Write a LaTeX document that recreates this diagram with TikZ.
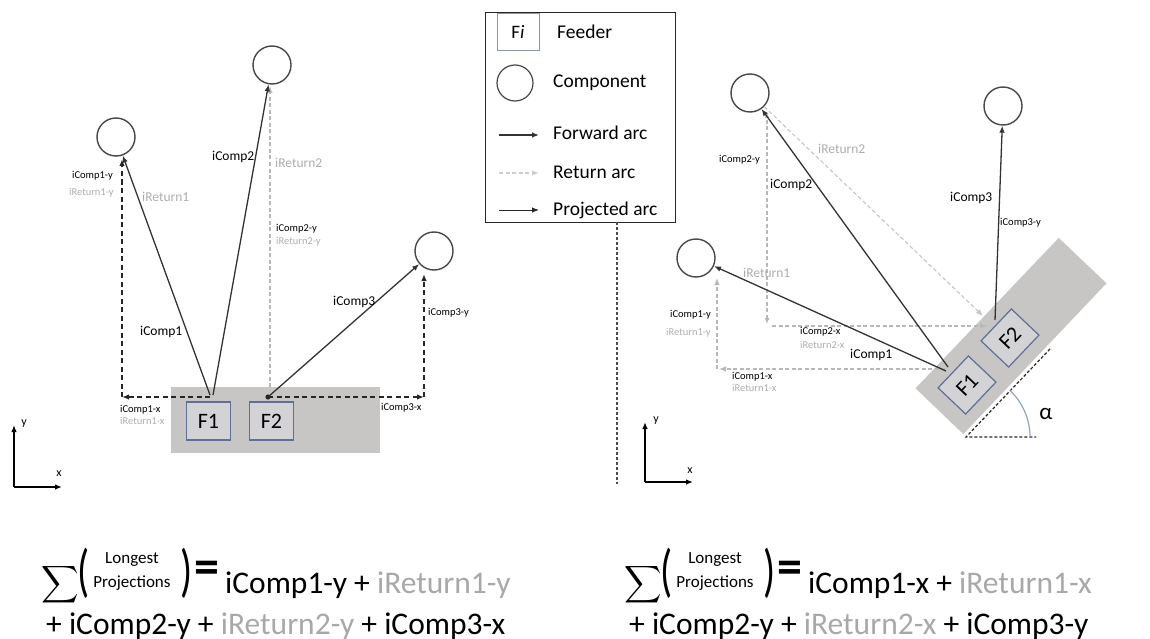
\documentclass[tikz,border=0pt]{standalone}
\usepackage{fontspec}
\usepackage{graphicx}
\setmainfont{Carlito}
\usetikzlibrary{arrows.meta}
\definecolor{boxgrey}{HTML}{C8C5C5}
\definecolor{feedfill}{HTML}{D3D2D4}
\definecolor{feedblue}{HTML}{5F6F95}
\definecolor{retgrey}{HTML}{B8B8B8}
\definecolor{txtgrey}{HTML}{ADADAD}
\definecolor{eqgrey}{HTML}{A8A8A8}
\definecolor{alphablue}{HTML}{8FA3CC}
\begin{document}
\begin{tikzpicture}[x=1pt,y=-1pt,
  comp/.style={circle,draw=black!72,line width=1.4pt,fill=white,minimum size=38pt,inner sep=0pt},
  feeder/.style={draw=feedblue,line width=1.2pt,fill=feedfill,minimum width=44pt,minimum height=38pt,inner sep=0pt,font=\fontsize{22}{22}\selectfont},
  tip/.style={-{Latex[length=7pt,width=5.5pt]}},
  tips/.style={{Latex[length=6pt,width=5pt]}-{Latex[length=6pt,width=5pt]}},
  fwd/.style={draw=black!80,line width=1.3pt,tip},
  retarc/.style={draw=retgrey,line width=1.1pt,dash pattern=on 4pt off 2.5pt},
  projk/.style={draw=black!85,line width=1.7pt,dash pattern=on 5pt off 3.5pt},
  projg/.style={draw=retgrey,line width=1.1pt,dash pattern=on 4pt off 2.5pt},
  lab/.style={font=\fontsize{13.5}{14}\selectfont,inner sep=0pt,anchor=west},
  slab/.style={font=\fontsize{10.5}{11}\selectfont,inner sep=0pt,anchor=west},
  grey/.style={text=txtgrey},
  axis/.style={draw=black,line width=1.3pt,tip},
  axlab/.style={font=\fontsize{12}{12}\selectfont,inner sep=0pt},
  legtxt/.style={font=\fontsize{19.5}{20}\selectfont,inner sep=0pt,anchor=west},
  eq/.style={font=\fontsize{31.5}{32}\selectfont,inner sep=0pt,anchor=base west},
  eqsmall/.style={font=\fontsize{17}{17}\selectfont,inner sep=0pt},
  bigsum/.style={inner sep=0pt},
  paren/.style={inner sep=0pt},
  eqsign/.style={inner sep=0pt,font=\fontsize{50}{50}\selectfont\bfseries}
]
\useasboundingbox (0,0) rectangle (1150,639);

% ================= LEFT DIAGRAM =================
\fill[boxgrey] (171,387) rectangle (380,453);
\node[feeder] (F1) at (208.5,421) {F1};
\node[feeder] (F2) at (271.5,421) {F2};
\node[comp] (C1) at (116,137) {};
\node[comp] (C2) at (272,65) {};
\node[comp] (C3) at (434,251) {};

\coordinate (a1) at (210,395);
\coordinate (a2) at (213,395);
\coordinate (a3) at (268,397);
\coordinate (h1) at (210,397);
\coordinate (pL) at (122,397);
\coordinate (pR) at (424,397);
\coordinate (pLt) at (122,159);
\coordinate (pRt) at (424,274);
\coordinate (r2b) at (270,387);
\coordinate (r2t) at (270,86);

\draw[projg,tip] (r2b) -- (r2t);
\draw[projk,tip] (h1) -- (pL);
\draw[projk,tip] (pL) -- (pLt);
\draw[projk,tip] (a3) -- (pR);
\draw[projk,tip] (pR) -- (pRt);
\draw[fwd] (a1) -- (C1);
\draw[fwd] (a2) -- (C2);
\draw[fwd] (a3) -- (C3);
\fill[black!85] (a3) circle (2.6pt);

\node[slab] at (72,176) {iComp1-y};
\node[slab,grey] at (69,193) {iReturn1-y};
\node[lab,grey] at (142,197) {iReturn1};
\node[lab] at (212,157) {iComp2};
\node[lab,grey] at (275,163) {iReturn2};
\node[slab] at (276,229) {iComp2-y};
\node[slab,grey] at (276,242) {iReturn2-y};
\node[lab] at (140,332) {iComp1};
\node[lab] at (333,302) {iComp3};
\node[slab] at (428,313) {iComp3-y};
\node[slab] at (120,410) {iComp1-x};
\node[slab,grey] at (120,421) {iReturn1-x};
\node[slab] at (381,408) {iComp3-x};

\coordinate (o1) at (14,487);
\coordinate (o1y) at (14,425);
\coordinate (o1x) at (62,487);
\draw[axis] (o1) -- (o1y);
\draw[axis] (o1) -- (o1x);
\node[axlab] at (24,424) {y};
\node[axlab] at (59,474) {x};

% ================= LEGEND =================
\node[draw=black!85,line width=1.2pt,minimum width=190pt,minimum height=210pt,anchor=north west,inner sep=0pt] (leg) at (485,12) {};
\node[draw=feedblue!75,line width=1pt,fill=white,minimum width=42pt,minimum height=37pt,inner sep=0pt,font=\fontsize{19}{19}\selectfont] (legF) at (518,32) {F\textit{i}};
\node[legtxt] at (557,32) {Feeder};
\node[comp,minimum size=36pt,line width=1.2pt] (legC) at (515,83) {};
\node[legtxt] at (553,83) {Component};
\coordinate (lfa) at (499,135); \coordinate (lfb) at (539,135);
\draw[fwd] (lfa) -- (lfb);
\node[legtxt] at (553,133) {Forward arc};
\coordinate (lra) at (499,173); \coordinate (lrb) at (539,173);
\draw[retarc,draw=retgrey!70,tip] (lra) -- (lrb);
\node[legtxt] at (553,172) {Return arc};
\coordinate (lpa) at (499,210); \coordinate (lpb) at (539,210);
\draw[draw=black!85,line width=1pt,tip] (lpa) -- (lpb);
\node[legtxt] at (553,210) {Projected arc};

\coordinate (sep1) at (617,222);
\coordinate (sep2) at (617,484);
\draw[black!70,line width=1.4pt,dash pattern=on 3pt off 2pt] (sep1) -- (sep2);

% ================= RIGHT DIAGRAM =================
\fill[boxgrey] (915.5,388.3) -- (1058.7,237.9) -- (1106.5,283.3) -- (963.3,434.1) -- cycle;
\node[feeder,rotate=46.5] (RF1) at (967,385) {F1};
\node[feeder,rotate=46.5] (RF2) at (1010,338) {F2};
\node[comp] (RC1) at (696,258) {};
\node[comp] (RC2) at (750,93) {};
\node[comp] (RC3) at (1003,106) {};

\coordinate (al0) at (966,437);
\coordinate (al1) at (1050,349);
\coordinate (al2) at (1036,437);
\draw[black!85,line width=1.2pt,dash pattern=on 3pt off 2pt] (al1) -- (al0) -- (al2);
\draw[alphablue,line width=1.2pt] (1030,437) arc[start angle=0,end angle=46.5,radius=64pt];
\node[font=\fontsize{23}{23}\selectfont,inner sep=0pt] at (1046,414) {α};

\coordinate (b1) at (946,371);
\coordinate (b2) at (948,367);
\coordinate (b3) at (995,320);
\coordinate (r2e) at (983,316);
\coordinate (v2t) at (767,112);
\coordinate (v2b) at (767,324);
\coordinate (h2l) at (772,326);
\coordinate (h2r) at (987,326);
\coordinate (v1t) at (717,278);
\coordinate (v1b) at (717,369);
\coordinate (h1r) at (945,369);
\coordinate (h1l) at (719,369);

\draw[projg,tips] (v2b) -- (v2t);
\draw[projg,tip] (h2l) -- (h2r);
\draw[projg,tip] (v1b) -- (v1t);
\draw[projg,tip] (h1r) -- (h1l);
\draw[retarc,draw=retgrey!80,tip] (RC2) -- (r2e);
\draw[fwd] (b1) -- (RC1);
\draw[fwd] (b2) -- (RC2);
\draw[fwd] (b3) -- (RC3);

\node[slab] at (719,160) {iComp2-y};
\node[lab] at (770,185) {iComp2};
\node[lab,grey] at (818,149) {iReturn2};
\node[lab,grey] at (743,273) {iReturn1};
\node[slab] at (670,315) {iComp1-y};
\node[slab,grey] at (666,333) {iReturn1-y};
\node[slab] at (800,332) {iComp2-x};
\node[slab,grey] at (800,345) {iReturn2-x};
\node[lab] at (850,355) {iComp1};
\node[slab] at (732,377) {iComp1-x};
\node[slab,grey] at (732,388) {iReturn1-x};
\node[lab] at (950,198) {iComp3};
\node[slab] at (1000,223) {iComp3-y};

\coordinate (o2) at (645,482);
\coordinate (o2y) at (645,422);
\coordinate (o2x) at (693,482);
\draw[axis] (o2) -- (o2y);
\draw[axis] (o2) -- (o2x);
\node[axlab] at (656,421) {y};
\node[axlab] at (690,471) {x};

% ================= EQUATIONS =================
\node[bigsum] (S1) at (60,585) {\scalebox{2.6}{$\displaystyle\sum$}};
\node[paren] (P1a) at (84,573) {\scalebox{1}[1.45]{\fontsize{40}{40}\selectfont(}};
\node[eqsmall] (L1a) at (132,560) {Longest};
\node[eqsmall] (L1b) at (132,583) {Projections};
\node[paren] (P1b) at (187,573) {\scalebox{1}[1.45]{\fontsize{40}{40}\selectfont)}};
\node[eqsign] (E1) at (207,572) {=};
\node[eq] (Q1a) at (225,593) {iComp1-y + {\color{eqgrey}iReturn1-y}};
\node[eq] (Q1b) at (46,634) {+ iComp2-y + {\color{eqgrey}iReturn2-y} + iComp3-x};

\node[bigsum] (S2) at (643,585) {\scalebox{2.6}{$\displaystyle\sum$}};
\node[paren] (P2a) at (667,573) {\scalebox{1}[1.45]{\fontsize{40}{40}\selectfont(}};
\node[eqsmall] (L2a) at (715,560) {Longest};
\node[eqsmall] (L2b) at (715,583) {Projections};
\node[paren] (P2b) at (770,573) {\scalebox{1}[1.45]{\fontsize{40}{40}\selectfont)}};
\node[eqsign] (E2) at (790,572) {=};
\node[eq] (Q2a) at (808,593) {iComp1-x + {\color{eqgrey}iReturn1-x}};
\node[eq] (Q2b) at (629,634) {+ iComp2-y + {\color{eqgrey}iReturn2-x} + iComp3-y};
\end{tikzpicture}
\end{document}
